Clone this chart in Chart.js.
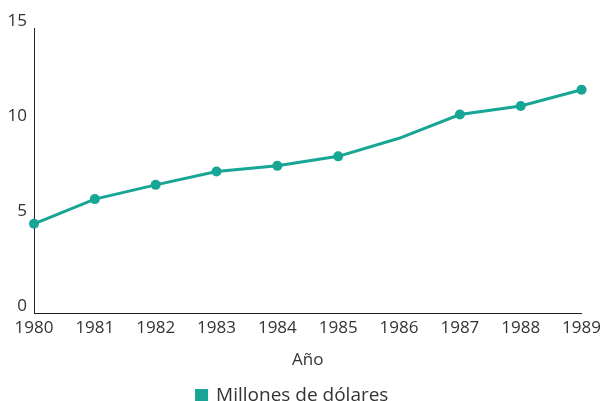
<!DOCTYPE html>
<html>
<head>
<meta charset="utf-8">
<script src="https://cdn.jsdelivr.net/npm/chart.js@4"></script>
<style>
  html, body { margin: 0; padding: 0; background: #fff; overflow: hidden; }
  #wrap { width: 606px; height: 415px; }
</style>
</head>
<body>
<div id="wrap"><canvas id="chart" width="606" height="415"></canvas></div>
<script>
// Datos
const years = ['1980', '1981', '1982', '1983', '1984', '1985', '1986', '1987', '1988', '1989'];
const millones = [4.7, 6.0, 6.75, 7.45, 7.75, 8.25, 9.2, 10.45, 10.9, 11.75];
const yTicks = [0, 5, 10, 15];

const teal = '#17a595';
const textColor = '#333333';
const font = { family: 'Open Sans', size: 17 };
const legendFont = { family: 'Open Sans', size: 19 };

// 1986 se dibuja sin marcador
const pointSizes = years.map((y) => (y === '1986' ? 0 : 5));

new Chart(document.getElementById('chart').getContext('2d'), {
  type: 'line',
  data: {
    labels: years,
    datasets: [
      {
        label: 'Millones de dólares',
        data: millones,
        borderColor: teal,
        backgroundColor: teal,
        borderWidth: 3,
        pointRadius: pointSizes,
        pointHoverRadius: pointSizes,
        pointBackgroundColor: teal,
        pointBorderWidth: 0,
        tension: 0,
        clip: false,
      },
    ],
  },
  options: {
    responsive: false,
    animation: false,
    layout: { padding: { top: 28, right: 21, left: 0, bottom: 0 } },
    plugins: {
      legend: {
        position: 'bottom',
        labels: {
          color: textColor,
          font: legendFont,
          boxWidth: 10,
          boxHeight: 10,
          padding: 6,
        },
      },
      tooltip: { enabled: false },
    },
    scales: {
      x: {
        offset: false,
        grid: { display: false, drawTicks: false },
        border: { display: true, color: '#222', width: 1, dash: [1, 1] },
        ticks: {
          color: textColor,
          font: font,
          maxRotation: 0,
          autoSkip: false,
          padding: 5,
        },
        title: {
          display: true,
          text: 'Año',
          color: textColor,
          font: font,
          padding: { top: 6, bottom: 10 },
        },
      },
      y: {
        min: 0,
        max: 15,
        afterBuildTicks: (scale) => {
          scale.ticks = yTicks.map((v) => ({ value: v }));
        },
        afterFit: (scale) => {
          scale.width = 34;
        },
        grid: { display: false, drawTicks: false },
        border: { display: true, color: '#222', width: 1, dash: [1, 1] },
        ticks: {
          color: textColor,
          font: font,
          padding: 7,
          labelOffset: -7,
        },
      },
    },
  },
});
</script>
</body>
</html>
